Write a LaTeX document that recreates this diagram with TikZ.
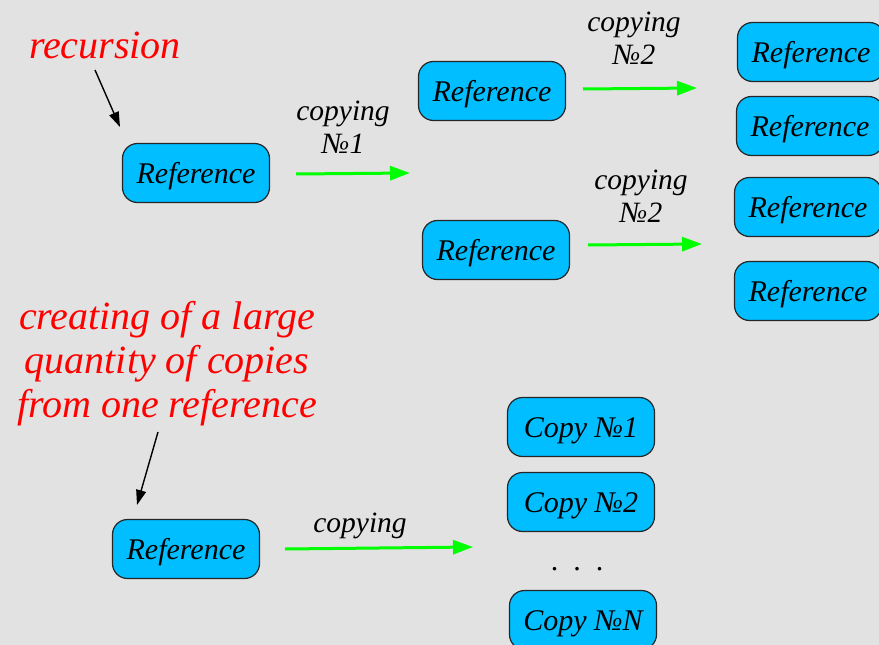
\documentclass[tikz,border=0pt]{standalone}
\usepackage{fontspec}
\setmainfont{Liberation Serif}
\newfontfamily\timesfont{Liberation Serif}
\usetikzlibrary{arrows.meta}
\definecolor{bg}{RGB}{226,226,226}
\definecolor{boxblue}{RGB}{0,190,255}
\definecolor{arrowgreen}{RGB}{0,255,0}
\tikzset{
  refbox/.style={draw=black!85, line width=1.2pt, fill=boxblue, rounded corners=15pt,
    minimum width=147pt, minimum height=59pt, inner sep=0pt,
    text height=22pt, text depth=2pt,
    font=\timesfont\itshape\fontsize{30}{34}\selectfont},
  copyarrow/.style={draw=arrowgreen, line width=3pt, -{Triangle[length=20pt,width=14pt]}},
  pointer/.style={draw=black, line width=1.4pt, -{Triangle[length=15pt,width=10pt]}},
  arrlabel/.style={font=\timesfont\itshape\fontsize{29.5}{33}\selectfont, align=center},
  note/.style={text=red, align=center, font=\timesfont\itshape\fontsize{40}{44}\selectfont}
}
\begin{document}
\begin{tikzpicture}[x=1pt,y=-1pt]
\fill[bg] (0,0) rectangle (879,645);
\clip (0,0) rectangle (879,645);

% recursion branch
\node[note] (rec) at (105,45) {recursion};
\node[refbox] (r0) at (196,173) {Reference};
\coordinate (recA) at (95,70);
\coordinate (recB) at (120,127);
\draw[pointer] (recA) -- (recB);

\coordinate (a1s) at (296,174);
\coordinate (a1e) at (410,173);
\draw[copyarrow] (a1s) -- (a1e);
\node[arrlabel] (l1) at (343,127) {copying\\№1};

\node[refbox] (r1) at (492,91) {Reference};
\node[refbox] (r2) at (496,250) {Reference};

\coordinate (a2s) at (583,89);
\coordinate (a2e) at (697,88);
\draw[copyarrow] (a2s) -- (a2e);
\node[arrlabel] (l2) at (634,38) {copying\\№2};

\coordinate (a3s) at (588,245);
\coordinate (a3e) at (702,244);
\draw[copyarrow] (a3s) -- (a3e);
\node[arrlabel] (l3) at (641,196) {copying\\№2};

\node[refbox] (r11) at (811,52) {Reference};
\node[refbox] (r12) at (810,126) {Reference};
\node[refbox] (r21) at (808,207) {Reference};
\node[refbox] (r22) at (808,291) {Reference};

% many copies from one reference
\node[note] (many) at (167,364) {creating of a large\\quantity of copies\\from one reference};
\node[refbox] (b0) at (186,549) {Reference};
\coordinate (manyA) at (158,432);
\coordinate (manyB) at (137,505);
\draw[pointer] (manyA) -- (manyB);

\coordinate (a4s) at (285,549);
\coordinate (a4e) at (473,547);
\draw[copyarrow] (a4s) -- (a4e);
\node[arrlabel] (l4) at (360,526) {copying};

\node[refbox] (c1) at (581,427) {Copy №1};
\node[refbox] (c2) at (581,502) {Copy №2};
\node[font=\fontsize{30}{30}\selectfont] (dots) at (577,569) {.\,\,\,.\,\,\,.};
\node[refbox] (cn) at (583,620) {Copy №N};
\end{tikzpicture}
\end{document}
